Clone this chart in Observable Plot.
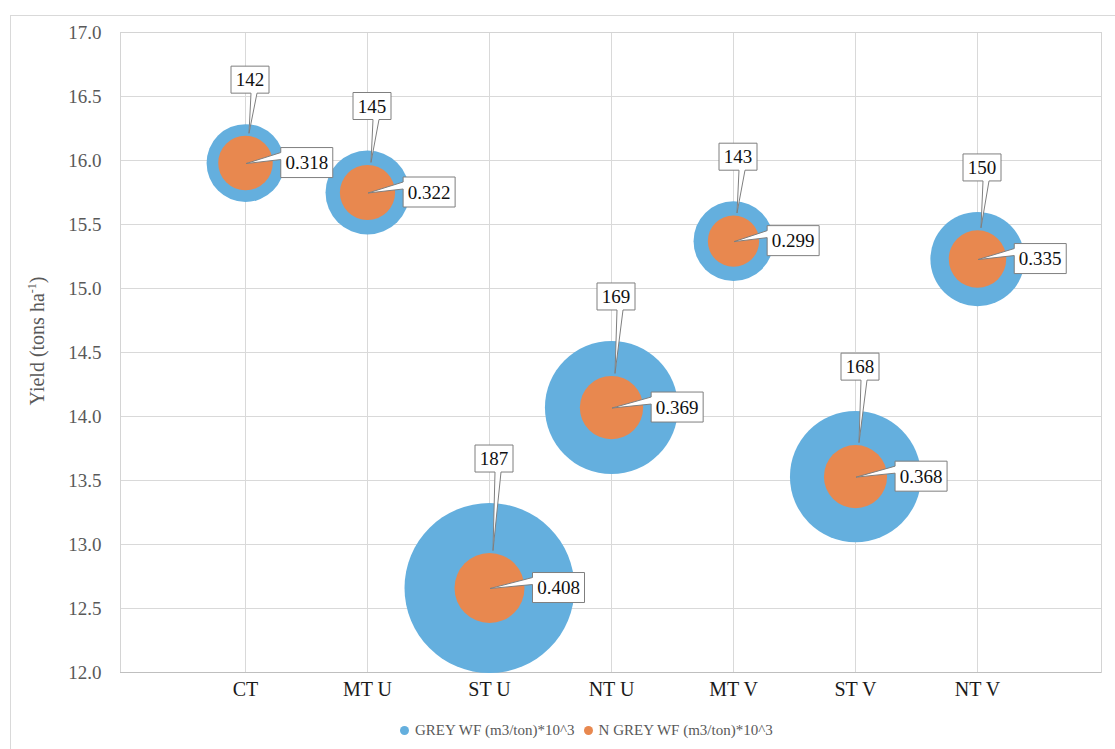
<!DOCTYPE html>
<html><head><meta charset="utf-8">
<script src="https://cdn.jsdelivr.net/npm/d3@7"></script>
<script src="https://cdn.jsdelivr.net/npm/@observablehq/plot@0.6"></script>
<style>
html,body{margin:0;padding:0;background:#fff;}
body{width:1115px;height:749px;overflow:hidden;position:relative;font-family:"Liberation Serif","DejaVu Serif",serif;}
#border{position:absolute;left:10px;top:15px;width:1200px;height:800px;border:1px solid #d9d9d9;box-sizing:border-box;}
#chart{position:absolute;left:0;top:0;}
#legend{position:absolute;top:722px;left:400px;display:flex;align-items:center;font-size:15px;color:#595959;white-space:nowrap;}
#legend .sw{display:inline-block;width:9px;height:9px;border-radius:50%;margin-right:6px;}
#legend .item{display:flex;align-items:center;margin-right:9px;}
</style></head><body>
<div id="border"></div>
<div id="chart"></div>
<div id="legend"></div>
<script>
// ---- data ----
const treatments = ["CT", "MT U", "ST U", "NT U", "MT V", "ST V", "NT V"];
const yieldValues = [15.98, 15.75, 12.66, 14.07, 15.37, 13.53, 15.23];
const greyWF = [142, 145, 187, 169, 143, 168, 150];
const nGreyWF = [0.318, 0.322, 0.408, 0.369, 0.299, 0.368, 0.335];
const yTicks = [12.0, 12.5, 13.0, 13.5, 14.0, 14.5, 15.0, 15.5, 16.0, 16.5, 17.0];
const seriesNames = ["GREY WF (m3/ton)*10^3", "N GREY WF (m3/ton)*10^3"];
const axisTitle = "Yield (tons ha";
const axisTitleSup = "-1";

// ---- styles ----
const BLUE = "#64AFDE", ORANGE = "#E8884F";
const FONT = '"Liberation Serif", "DejaVu Serif", serif';
const LABEL_SIZE = 19;

const rows = treatments.map((t, i) => ({cat: t, yield: yieldValues[i], grey: greyWF[i], ngrey: nGreyWF[i]}));

// bubble size scales (Plot's own scales)
const rBlue = Plot.scale({r: {type: "linear", domain: [104, 187], range: [0, 85]}});
const rOrange = Plot.scale({r: {type: "linear", domain: [0, 0.408], range: [0, 35]}});

const measure = (() => {
  const ctx = document.createElement("canvas").getContext("2d");
  return (txt, size) => { ctx.font = `${size}px ${FONT}`; return ctx.measureText(txt).width; };
})();

function callouts(index, scales) {
  const g = d3.create("svg:g").attr("font-family", FONT).attr("font-size", LABEL_SIZE);
  for (const d of rows) {
    const cx = scales.x(d.cat), cy = scales.y(d.yield);
    const rb = rBlue.apply(d.grey), ro = rOrange.apply(d.ngrey);
    // top callout (grey WF)
    const t1 = String(d.grey);
    const w1 = Math.round(measure(t1, LABEL_SIZE) + 9), h1 = 27;
    const bcx = cx + 5, bcy = cy - rb - 44;
    const l1 = bcx - w1 / 2, tp1 = bcy - h1 / 2, b1 = bcy + h1 / 2;
    const tipX = cx + 4, tipY = cy - ro - 2;
    g.append("path")
      .attr("d", `M${l1},${tp1}H${l1 + w1}V${b1}H${bcx + 7}L${tipX},${tipY}L${bcx + 1},${b1}H${l1}Z`)
      .attr("fill", "#fff").attr("stroke", "#7f7f7f").attr("stroke-width", 1);
    g.append("text").attr("x", bcx).attr("y", bcy).attr("dy", "0.35em")
      .attr("text-anchor", "middle").attr("fill", "#111").text(t1);
    // right callout (N grey WF)
    const t2 = d.ngrey.toFixed(3);
    const w2 = Math.round(measure(t2, LABEL_SIZE) + 9), h2 = 30;
    const l2 = cx + ro + 8.5, tp2 = cy - h2 / 2, b2 = cy + h2 / 2;
    g.append("path")
      .attr("d", `M${l2},${tp2}H${l2 + w2}V${b2}H${l2}V${tp2 + 12}L${cx + 1},${cy + 1}L${l2},${tp2 + 5}Z`)
      .attr("fill", "#fff").attr("stroke", "#7f7f7f").attr("stroke-width", 1);
    g.append("text").attr("x", l2 + w2 / 2).attr("y", cy).attr("dy", "0.35em")
      .attr("text-anchor", "middle").attr("fill", "#111").text(t2);
  }
  return g.node();
}

function yTitle(index, scales, values, dims) {
  const yc = (dims.marginTop + dims.height - dims.marginBottom) / 2 - 11;
  const t = d3.create("svg:text")
    .attr("transform", `translate(44,${yc}) rotate(-90)`)
    .attr("text-anchor", "middle").attr("font-family", FONT)
    .attr("font-size", 20).attr("fill", "#595959");
  t.append("tspan").text(axisTitle);
  t.append("tspan").attr("font-size", 12).attr("dy", -8).text(axisTitleSup);
  t.append("tspan").attr("dy", 8).text(")");
  return t.node();
}

const chart = Plot.plot({
  width: 1115,
  height: 715,
  marginLeft: 120,
  marginRight: 14,
  marginTop: 32,
  marginBottom: 43,
  style: {fontFamily: FONT, background: "transparent"},
  x: {type: "point", domain: treatments, padding: 1},
  y: {domain: [12, 17]},
  r: {type: "identity"},
  marks: [
    Plot.gridY(yTicks, {stroke: "#d9d9d9", strokeOpacity: 1}),
    Plot.gridX(treatments, {stroke: "#d9d9d9", strokeOpacity: 1}),
    Plot.frame({stroke: "#d4d4d4"}),
    Plot.ruleY([12], {stroke: "#bfbfbf"}),
    Plot.axisY(yTicks, {tickSize: 0, tickPadding: 19, tickFormat: d => d.toFixed(1), fontSize: 19, fill: "#595959", label: null}),
    Plot.axisX({tickSize: 0, tickPadding: 9, fontSize: 20, fill: "#1a1a1a", label: null}),
    Plot.dot(rows, {x: "cat", y: "yield", r: d => rBlue.apply(d.grey), fill: BLUE, stroke: null}),
    Plot.dot(rows, {x: "cat", y: "yield", r: d => rOrange.apply(d.ngrey), fill: ORANGE, stroke: null}),
    callouts,
    yTitle
  ]
});
document.getElementById("chart").appendChild(chart);

const legend = document.getElementById("legend");
[BLUE, ORANGE].forEach((c, i) => {
  const it = document.createElement("span");
  it.className = "item";
  it.innerHTML = `<span class="sw" style="background:${c}"></span><span>${seriesNames[i]}</span>`;
  legend.appendChild(it);
});
</script>
</body></html>
